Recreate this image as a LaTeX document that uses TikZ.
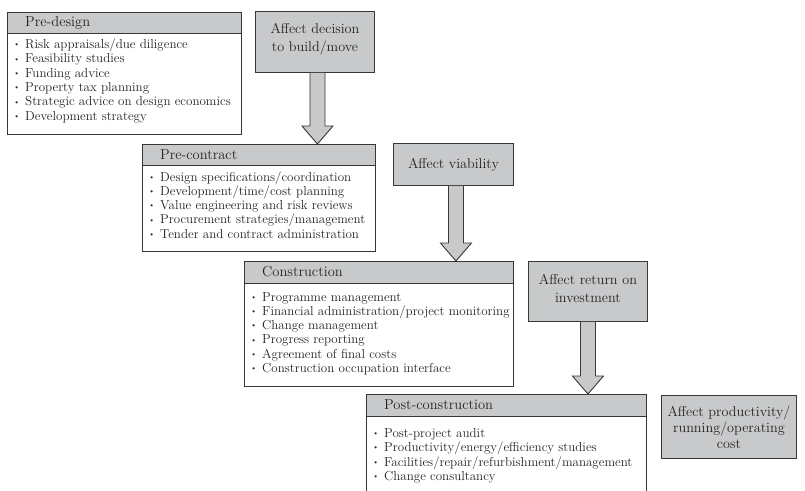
\documentclass[tikz,border=0pt]{standalone}
\usetikzlibrary{calc}
\definecolor{boxgray}{RGB}{200,201,203}
\definecolor{edge}{RGB}{55,55,55}
\definecolor{ink}{RGB}{35,35,35}
\newcommand{\bul}{\makebox[0pt][r]{\raisebox{0.3ex}{\fontsize{7.5}{7.5}\selectfont\textbullet}\hspace{5.5pt}}}
% #1 from node, #2 to node, #3 horizontal offset of the arrow axis
\newcommand{\downblock}[3]{%
  \coordinate (ax) at ($(#1.south)+(#3,0)$);
  \coordinate (tp) at (ax |- #2.north);
  \filldraw[blockarrow] ($(ax)+(-7.5,0)$) -- ($(tp)+(-7.5,-18)$)
    -- ($(tp)+(-15.5,-18)$) -- (tp)
    -- ($(tp)+(15.5,-18)$) -- ($(tp)+(7.5,-18)$)
    -- ($(ax)+(7.5,0)$);}
\begin{document}
\begin{tikzpicture}[x=1pt,y=-1pt,
  hdr/.style={draw=edge, fill=boxgray, line width=0.9pt, inner sep=0pt, anchor=north west},
  bodybox/.style={draw=edge, fill=white, line width=0.9pt, inner sep=0pt, anchor=north west},
  effect/.style={draw=edge, fill=boxgray, line width=0.9pt, inner sep=0pt, anchor=north west},
  effecttext/.style={align=center, inner sep=0pt, font=\fontsize{14.2}{18}\selectfont, text=ink},
  hdrtext/.style={anchor=west, inner sep=0pt, font=\fontsize{14.5}{16}\selectfont, text=ink},
  itemtext/.style={anchor=base west, inner sep=0pt, font=\fontsize{13}{14.5}\selectfont, text=ink},
  blockarrow/.style={draw=edge, fill=boxgray, line width=0.9pt, line join=miter}
]
\useasboundingbox (0,0) rectangle (805,490);

% Pre-design
\node[hdr, minimum width=234pt, minimum height=21pt] (pdh) at (7,12) {};
\node[bodybox, minimum width=234pt, minimum height=101pt] (pdb) at (7,33) {};
\node[hdrtext] (pdt) at (25,22.5) {Pre-design};
\foreach \t [count=\i] in {Risk appraisals/due diligence, Feasibility studies, Funding advice,
  Property tax planning, Strategic advice on design economics, Development strategy}
  \node[itemtext] (pd-\i) at (25,{48.5+(\i-1)*14.3}) {\bul\t};

% Pre-contract
\node[hdr, minimum width=233pt, minimum height=21pt] (pch) at (142,144) {};
\node[bodybox, minimum width=233pt, minimum height=86pt] (pcb) at (142,165) {};
\node[hdrtext] (pct) at (160,154.5) {Pre-contract};
\foreach \t [count=\i] in {Design specifications/coordination, Development/time/cost planning,
  Value engineering and risk reviews, Procurement strategies/management,
  Tender and contract administration}
  \node[itemtext] (pc-\i) at (160,{181+(\i-1)*14.3}) {\bul\t};

% Construction
\node[hdr, minimum width=269pt, minimum height=22pt] (ch) at (244,261) {};
\node[bodybox, minimum width=269pt, minimum height=103pt] (cb) at (244,283) {};
\node[hdrtext] (ct) at (262,272) {Construction};
\foreach \t [count=\i] in {Programme management, Financial administration/project monitoring,
  Change management, Progress reporting, Agreement of final costs,
  Construction occupation interface}
  \node[itemtext] (c-\i) at (262,{301+(\i-1)*14.3}) {\bul\t};

% Post-construction
\node[hdr, minimum width=280pt, minimum height=22pt] (poh) at (366,394) {};
\node[bodybox, minimum width=280pt, minimum height=82pt] (pob) at (366,416) {};
\node[hdrtext] (pot) at (384,405) {Post-construction};
\foreach \t [count=\i] in {Post-project audit, Productivity/energy/efficiency studies,
  Facilities/repair/refurbishment/management, Change consultancy}
  \node[itemtext] (po-\i) at (384,{437+(\i-1)*14.5}) {\bul\t};

% Effect boxes
\node[effect, minimum width=119pt, minimum height=61pt] (dec) at (255,11) {};
\node[effecttext] (dect) at ($(dec.center)+(0,-3)$) {Affect decision\\to build/move};
\node[effect, minimum width=120pt, minimum height=42pt] (via) at (393,143) {};
\node[effecttext] (viat) at (via.center) {Affect viability};
\node[effect, minimum width=119pt, minimum height=60pt] (ret) at (528,261) {};
\node[effecttext] (rett) at ($(ret.center)+(0,-3)$) {Affect return on\\investment};
\node[effect, minimum width=135pt, minimum height=63pt] (prod) at (661,395) {};
\node[effecttext, font=\fontsize{14.2}{16}\selectfont] (prodt) at (prod.center) {Affect productivity/\\running/operating\\cost};

% Block arrows
\downblock{dec}{pch}{2.5}
\downblock{via}{ch}{2.5}
\downblock{ret}{poh}{0}
\end{tikzpicture}
\end{document}
